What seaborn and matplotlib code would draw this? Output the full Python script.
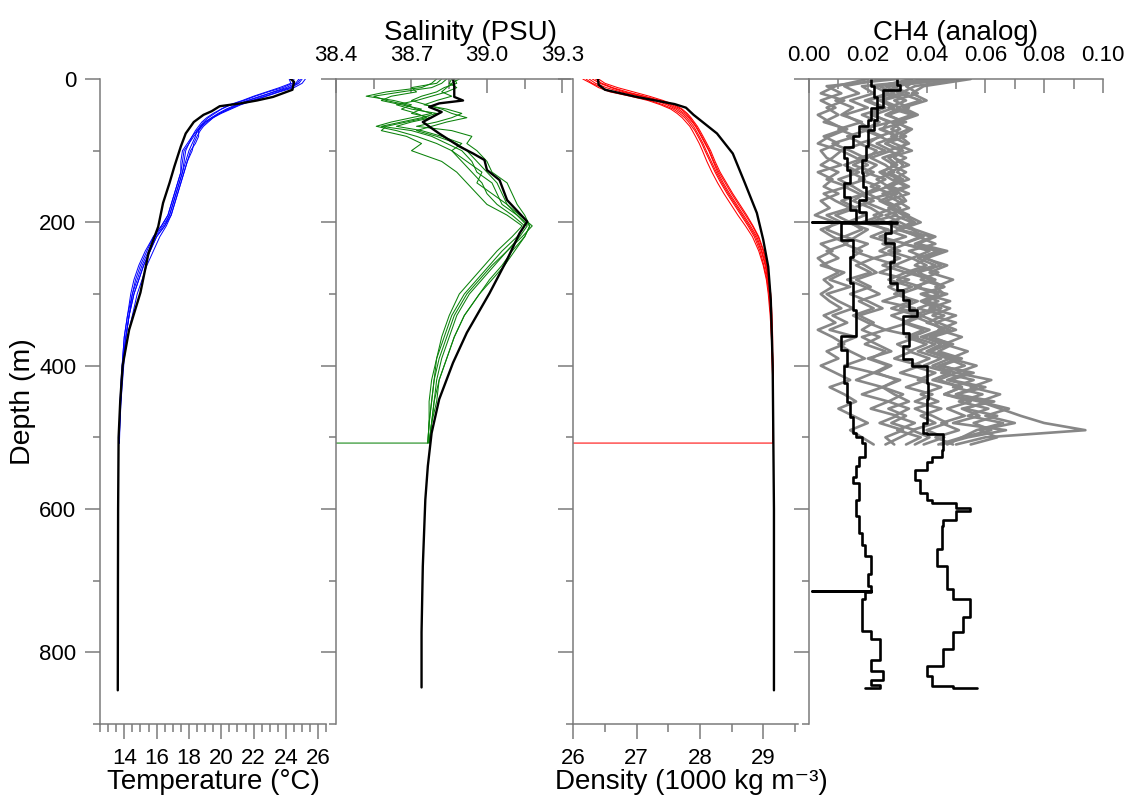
import matplotlib
matplotlib.use("Agg")
import matplotlib.pyplot as plt
import numpy as np
import pandas as pd
import seaborn as sns
from matplotlib.ticker import MultipleLocator, FixedLocator, FormatStrFormatter

# ---------------- data ----------------
# depth grid of the CTD casts (m)
CAST_DEPTH = [0, 6, 12, 18, 24, 30, 36, 42, 48, 54, 60, 66, 72, 80, 90, 100, 115, 130, 145,
              160, 175, 190, 205, 220, 240, 260, 280, 300, 330, 360, 390, 420, 450, 480, 508]

TEMP_CASTS = [
    [24.8, 24.6, 24.0, 23.2, 22.5, 21.7, 21.0, 20.4, 19.9, 19.5, 19.2, 18.9, 18.7, 18.5, 18.3, 18.2, 17.9, 17.7, 17.5,
     17.3, 17.1, 16.9, 16.5, 16.0, 15.6, 15.2, 14.9, 14.6, 14.3, 14.1, 13.95, 13.85, 13.78, 13.72, 13.68],
    [25.2, 25.0, 24.5, 23.6, 22.8, 22.0, 21.2, 20.6, 20.0, 19.5, 19.1, 18.8, 18.6, 18.6, 18.4, 18.1, 17.9, 17.7, 17.5,
     17.3, 17.1, 16.9, 16.6, 16.2, 15.8, 15.4, 15.1, 14.8, 14.5, 14.2, 14.0, 13.9, 13.8, 13.74, 13.7],
    [24.5, 24.4, 23.8, 22.9, 22.1, 21.4, 20.6, 20.0, 19.5, 19.1, 18.8, 18.6, 18.4, 18.2, 17.9, 17.6, 17.5, 17.5, 17.3,
     17.1, 16.9, 16.7, 16.3, 15.8, 15.3, 14.9, 14.6, 14.4, 14.2, 14.0, 13.9, 13.82, 13.75, 13.7, 13.67],
    [25.0, 24.8, 24.3, 23.5, 22.7, 21.9, 21.1, 20.5, 19.9, 19.4, 19.0, 18.7, 18.5, 18.4, 18.2, 18.0, 17.8, 17.6, 17.4,
     17.2, 17.0, 16.8, 16.5, 16.0, 15.6, 15.2, 14.9, 14.6, 14.3, 14.1, 13.95, 13.85, 13.78, 13.72, 13.69],
    [24.2, 24.3, 23.6, 22.8, 22.0, 21.3, 20.5, 20.0, 19.6, 19.2, 18.9, 18.7, 18.6, 18.3, 18.0, 17.7, 17.6, 17.5, 17.3,
     17.1, 16.9, 16.7, 16.3, 15.8, 15.4, 15.0, 14.7, 14.5, 14.2, 14.0, 13.9, 13.8, 13.74, 13.7, 13.67],
    [24.9, 24.7, 24.2, 23.3, 22.4, 21.6, 20.9, 20.3, 19.8, 19.4, 19.0, 18.8, 18.5, 18.2, 18.0, 17.8, 17.7, 17.6, 17.4,
     17.2, 17.0, 16.8, 16.4, 15.9, 15.5, 15.1, 14.8, 14.5, 14.3, 14.1, 13.95, 13.85, 13.77, 13.71, 13.68],
]

SAL_CASTS = [
    [38.84, 38.82, 38.78, 38.66, 38.55, 38.60, 38.68, 38.72, 38.78, 38.70, 38.62, 38.56, 38.64, 38.72, 38.80, 38.86,
     38.90, 38.94, 38.98, 39.00, 39.04, 39.10, 39.15, 39.12, 39.06, 39.01, 38.96, 38.91, 38.86, 38.83, 38.80, 38.79,
     38.78, 38.77, 38.765],
    [38.87, 38.88, 38.83, 38.80, 38.74, 38.70, 38.76, 38.82, 38.86, 38.92, 38.84, 38.78, 38.72, 38.80, 38.88, 38.92,
     38.96, 39.00, 39.04, 39.06, 39.08, 39.12, 39.17, 39.15, 39.10, 39.06, 39.01, 38.97, 38.91, 38.87, 38.84, 38.81,
     38.79, 38.78, 38.77],
    [38.80, 38.78, 38.74, 38.60, 38.52, 38.63, 38.70, 38.66, 38.72, 38.76, 38.68, 38.60, 38.58, 38.68, 38.74, 38.70,
     38.82, 38.88, 38.92, 38.96, 39.00, 39.08, 39.14, 39.10, 39.04, 38.99, 38.94, 38.89, 38.85, 38.82, 38.80, 38.78,
     38.77, 38.77, 38.765],
    [38.86, 38.85, 38.88, 38.84, 38.78, 38.72, 38.64, 38.70, 38.80, 38.74, 38.66, 38.58, 38.70, 38.78, 38.84, 38.90,
     38.94, 38.96, 39.02, 39.04, 39.06, 39.12, 39.16, 39.13, 39.08, 39.03, 38.98, 38.93, 38.88, 38.85, 38.82, 38.80,
     38.79, 38.78, 38.77],
    [38.82, 38.80, 38.70, 38.72, 38.62, 38.58, 38.66, 38.74, 38.70, 38.78, 38.70, 38.64, 38.74, 38.82, 38.90, 38.86,
     38.92, 38.98, 38.96, 39.02, 39.08, 39.13, 39.18, 39.14, 39.08, 39.02, 38.97, 38.92, 38.87, 38.84, 38.81, 38.79,
     38.78, 38.77, 38.765],
    [38.89, 38.86, 38.84, 38.82, 38.86, 38.80, 38.75, 38.84, 38.90, 38.86, 38.80, 38.72, 38.86, 38.94, 38.92, 38.96,
     39.00, 39.02, 39.08, 39.10, 39.12, 39.15, 39.17, 39.15, 39.11, 39.07, 39.02, 38.97, 38.91, 38.87, 38.84, 38.81,
     38.80, 38.78, 38.77],
]

DEN_CASTS = [
    [26.20, 26.30, 26.45, 26.62, 26.95, 27.22, 27.42, 27.58, 27.68, 27.76, 27.82, 27.87, 27.92, 27.97, 28.03, 28.08,
     28.16, 28.24, 28.33, 28.43, 28.54, 28.65, 28.76, 28.86, 28.95, 29.01, 29.06, 29.09, 29.12, 29.13, 29.14, 29.15,
     29.15, 29.16, 29.16],
    [26.35, 26.45, 26.62, 26.85, 27.12, 27.35, 27.52, 27.66, 27.75, 27.82, 27.88, 27.93, 27.97, 28.02, 28.08, 28.14,
     28.21, 28.28, 28.37, 28.47, 28.58, 28.69, 28.80, 28.90, 28.98, 29.04, 29.08, 29.11, 29.13, 29.14, 29.15, 29.15,
     29.16, 29.16, 29.16],
    [26.15, 26.28, 26.40, 26.58, 26.90, 27.18, 27.38, 27.54, 27.64, 27.72, 27.78, 27.84, 27.88, 27.93, 27.99, 28.04,
     28.11, 28.19, 28.28, 28.38, 28.49, 28.60, 28.72, 28.83, 28.93, 29.00, 29.05, 29.08, 29.11, 29.13, 29.14, 29.15,
     29.15, 29.16, 29.16],
    [26.40, 26.50, 26.70, 26.95, 27.20, 27.42, 27.60, 27.72, 27.80, 27.86, 27.91, 27.96, 28.00, 28.05, 28.11, 28.17,
     28.24, 28.32, 28.42, 28.52, 28.63, 28.74, 28.84, 28.93, 29.01, 29.06, 29.09, 29.12, 29.14, 29.15, 29.15, 29.16,
     29.16, 29.16, 29.16],
    [26.25, 26.35, 26.52, 26.75, 27.05, 27.30, 27.48, 27.62, 27.72, 27.79, 27.85, 27.90, 27.94, 27.99, 28.05, 28.10,
     28.18, 28.26, 28.35, 28.45, 28.56, 28.67, 28.78, 28.88, 28.97, 29.03, 29.07, 29.10, 29.12, 29.14, 29.15, 29.15,
     29.16, 29.16, 29.16],
    [26.30, 26.42, 26.60, 26.80, 27.10, 27.38, 27.56, 27.70, 27.78, 27.84, 27.89, 27.94, 27.98, 28.03, 28.09, 28.15,
     28.22, 28.30, 28.40, 28.50, 28.61, 28.72, 28.83, 28.92, 29.00, 29.05, 29.09, 29.11, 29.13, 29.14, 29.15, 29.16,
     29.16, 29.16, 29.16],
]

# last recorded sample of the first cast (instrument returned to surface values)
END_DEPTH = 508
SAL_END = 38.40
DEN_END = 26.00

# reference (black) profiles
TEMP_REF_DEPTH = [0, 4, 15, 25, 30, 34, 38, 45, 50, 60, 76, 94, 122, 145, 173, 206, 243, 298, 350, 400, 450, 500,
                  600, 700, 853]
TEMP_REF = [24.3, 24.5, 24.4, 23.2, 22.2, 21.2, 19.9, 19.4, 18.9, 18.3, 17.8, 17.5, 17.1, 16.8, 16.4, 16.1, 15.5,
            15.0, 14.3, 13.9, 13.75, 13.65, 13.62, 13.61, 13.6]

SAL_REF_DEPTH = [0, 10, 20, 25, 30, 34, 39, 46, 60, 76, 94, 104, 113, 127, 141, 169, 199, 215, 252, 299, 354, 396,
                 447, 494, 540, 587, 680, 772, 849]
SAL_REF = [38.865, 38.87, 38.87, 38.87, 38.905, 38.81, 38.77, 38.82, 38.745, 38.81, 38.89, 38.945, 38.99, 39.0,
           39.05, 39.08, 39.16, 39.13, 39.08, 39.01, 38.92, 38.865, 38.81, 38.78, 38.765, 38.755, 38.745, 38.74, 38.74]

DEN_REF_DEPTH = [0, 8, 15, 20, 25, 30, 35, 40, 50, 57, 76, 104, 145, 187, 224, 262, 308, 400, 500, 600, 853]
DEN_REF = [26.39, 26.40, 26.50, 26.75, 27.00, 27.30, 27.60, 27.78, 27.90, 28.00, 28.27, 28.52, 28.71, 28.90, 29.00,
           29.08, 29.12, 29.15, 29.16, 29.17, 29.17]

# CH4 sensor casts (grey)
GRAY_DEPTH = [0, 10, 20, 30, 40, 50, 60, 70, 80, 90, 100, 110, 120,
              130, 140, 150, 160, 170, 180, 190, 200, 210, 220, 230, 240, 250,
              260, 270, 280, 290, 300, 310, 320, 330, 340, 350, 360, 370, 380,
              390, 400, 410, 420, 430, 440, 450, 460, 470, 480, 490, 500, 510]
CH4_CASTS = [
    [0.030, 0.006, 0.011, 0.004, 0.009, 0.003, 0.007, 0.012, 0.005, 0.010, 0.004, 0.006, 0.011,
     0.003, 0.008, 0.005, 0.010, 0.004, 0.007, 0.002, 0.009, 0.006, 0.012, 0.004, 0.008, 0.003,
     0.006, 0.010, 0.005, 0.008, 0.004, 0.007, 0.011, 0.005, 0.009, 0.003, 0.008, 0.012, 0.006,
     0.010, 0.004, 0.009, 0.014, 0.007, 0.012, 0.016, 0.010, 0.015, 0.020, 0.014, 0.018, 0.022],
    [0.045, 0.018, 0.022, 0.014, 0.020, 0.012, 0.017, 0.021, 0.013, 0.018, 0.011, 0.016, 0.020,
     0.014, 0.019, 0.012, 0.017, 0.022, 0.015, 0.019, 0.013, 0.020, 0.016, 0.012, 0.018, 0.014,
     0.019, 0.023, 0.016, 0.021, 0.014, 0.020, 0.025, 0.017, 0.022, 0.018, 0.024, 0.019, 0.026,
     0.021, 0.028, 0.023, 0.030, 0.025, 0.032, 0.027, 0.034, 0.029, 0.036, 0.030, 0.038, 0.033],
    [0.050, 0.026, 0.031, 0.024, 0.029, 0.022, 0.027, 0.025, 0.030, 0.023, 0.028, 0.021, 0.026,
     0.029, 0.023, 0.027, 0.020, 0.025, 0.029, 0.022, 0.026, 0.031, 0.024, 0.033, 0.027, 0.035,
     0.029, 0.036, 0.030, 0.038, 0.031, 0.035, 0.028, 0.037, 0.032, 0.039, 0.033, 0.040, 0.034,
     0.041, 0.035, 0.043, 0.037, 0.045, 0.038, 0.044, 0.036, 0.042, 0.047, 0.040, 0.046, 0.039],
    [0.038, 0.033, 0.037, 0.029, 0.034, 0.027, 0.032, 0.028, 0.033, 0.026, 0.031, 0.029, 0.034,
     0.027, 0.032, 0.028, 0.034, 0.026, 0.031, 0.029, 0.035, 0.030, 0.038, 0.032, 0.041, 0.035,
     0.040, 0.033, 0.042, 0.036, 0.044, 0.038, 0.043, 0.035, 0.041, 0.046, 0.039, 0.045, 0.040,
     0.048, 0.042, 0.050, 0.044, 0.052, 0.046, 0.055, 0.047, 0.053, 0.045, 0.051, 0.043, 0.049],
    [0.055, 0.039, 0.035, 0.040, 0.032, 0.037, 0.030, 0.034, 0.028, 0.033, 0.031, 0.029, 0.032,
     0.030, 0.034, 0.027, 0.031, 0.033, 0.028, 0.032, 0.036, 0.030, 0.042, 0.036, 0.045, 0.039,
     0.047, 0.041, 0.049, 0.043, 0.046, 0.040, 0.048, 0.042, 0.050, 0.044, 0.052, 0.046, 0.054,
     0.048, 0.057, 0.050, 0.062, 0.055, 0.065, 0.058, 0.068, 0.060, 0.070, 0.058, 0.064, 0.055],
    [0.035, 0.024, 0.029, 0.020, 0.026, 0.018, 0.024, 0.019, 0.025, 0.017, 0.023, 0.020, 0.015,
     0.022, 0.017, 0.024, 0.019, 0.015, 0.021, 0.025, 0.018, 0.027, 0.021, 0.029, 0.024, 0.031,
     0.025, 0.033, 0.027, 0.035, 0.029, 0.037, 0.031, 0.039, 0.033, 0.041, 0.035, 0.043, 0.037,
     0.045, 0.039, 0.048, 0.042, 0.052, 0.046, 0.058, 0.065, 0.072, 0.080, 0.094, 0.060, 0.050],
    [0.042, 0.030, 0.026, 0.033, 0.027, 0.035, 0.028, 0.031, 0.024, 0.029, 0.035, 0.027, 0.030,
     0.024, 0.028, 0.033, 0.025, 0.030, 0.034, 0.026, 0.031, 0.036, 0.043, 0.037, 0.047, 0.040,
     0.036, 0.044, 0.038, 0.046, 0.039, 0.048, 0.041, 0.050, 0.043, 0.045, 0.038, 0.047, 0.041,
     0.051, 0.044, 0.056, 0.048, 0.060, 0.050, 0.063, 0.052, 0.058, 0.049, 0.067, 0.054, 0.045],
    [0.040, 0.022, 0.027, 0.019, 0.025, 0.021, 0.028, 0.018, 0.024, 0.020, 0.026, 0.017, 0.023,
     0.019, 0.026, 0.021, 0.028, 0.018, 0.024, 0.030, 0.020, 0.026, 0.033, 0.025, 0.031, 0.022,
     0.030, 0.024, 0.034, 0.027, 0.032, 0.025, 0.036, 0.028, 0.034, 0.026, 0.037, 0.030, 0.035,
     0.029, 0.038, 0.031, 0.040, 0.033, 0.042, 0.036, 0.045, 0.038, 0.043, 0.035, 0.041, 0.036],
    [0.052, 0.036, 0.031, 0.038, 0.030, 0.036, 0.029, 0.035, 0.031, 0.034, 0.027, 0.033, 0.028,
     0.033, 0.029, 0.034, 0.028, 0.032, 0.027, 0.033, 0.038, 0.031, 0.037, 0.043, 0.034, 0.040,
     0.045, 0.037, 0.043, 0.036, 0.047, 0.039, 0.045, 0.038, 0.044, 0.050, 0.042, 0.048, 0.041,
     0.047, 0.053, 0.045, 0.056, 0.049, 0.059, 0.051, 0.061, 0.054, 0.066, 0.057, 0.052, 0.047],
    [0.025, 0.012, 0.017, 0.009, 0.015, 0.011, 0.018, 0.010, 0.016, 0.008, 0.014, 0.019, 0.012,
     0.017, 0.010, 0.015, 0.019, 0.011, 0.016, 0.009, 0.014, 0.018, 0.012, 0.020, 0.015, 0.022,
     0.016, 0.021, 0.013, 0.019, 0.024, 0.017, 0.022, 0.015, 0.020, 0.026, 0.018, 0.023, 0.028,
     0.020, 0.027, 0.022, 0.031, 0.025, 0.029, 0.034, 0.027, 0.033, 0.028, 0.036, 0.031, 0.026],
    [0.047, 0.028, 0.034, 0.025, 0.031, 0.026, 0.033, 0.024, 0.030, 0.026, 0.032, 0.025, 0.029,
     0.025, 0.031, 0.026, 0.030, 0.024, 0.029, 0.034, 0.027, 0.035, 0.039, 0.032, 0.044, 0.037,
     0.043, 0.035, 0.041, 0.046, 0.038, 0.044, 0.037, 0.046, 0.040, 0.048, 0.041, 0.049, 0.044,
     0.052, 0.045, 0.054, 0.047, 0.057, 0.050, 0.061, 0.053, 0.064, 0.056, 0.062, 0.052, 0.044],
    [0.020, 0.009, 0.004, 0.012, 0.006, 0.010, 0.005, 0.013, 0.007, 0.003, 0.011, 0.008, 0.004,
     0.010, 0.006, 0.013, 0.005, 0.009, 0.014, 0.006, 0.011, 0.004, 0.008, 0.013, 0.006, 0.010,
     0.004, 0.012, 0.007, 0.014, 0.006, 0.010, 0.015, 0.008, 0.013, 0.007, 0.016, 0.010, 0.014,
     0.019, 0.012, 0.022, 0.016, 0.025, 0.018, 0.027, 0.021, 0.030, 0.024, 0.032, 0.026, 0.029],
]

# CH4 reference profiles (black)
CH4_A_DEPTH = [0, 10, 25, 40, 57, 66, 80, 95, 110, 127, 145, 164, 183, 199, 200, 201, 224, 248, 285, 322,
               350, 359, 378, 400, 424, 450, 471, 494, 500, 508, 527, 540, 555, 564, 587, 610, 633, 650, 666, 690,
               708, 714, 715, 716, 726, 758, 770, 782, 810, 826, 838, 845, 850]
CH4_A = [0.021, 0.022, 0.023, 0.021, 0.020, 0.017, 0.015, 0.012, 0.013, 0.014, 0.012, 0.014, 0.016, 0.001, 0.030,
         0.011, 0.015, 0.014, 0.015, 0.016, 0.016, 0.011, 0.013, 0.012, 0.013, 0.014, 0.015, 0.016, 0.018, 0.019,
         0.017, 0.016, 0.015, 0.017, 0.016, 0.017, 0.018, 0.019, 0.021, 0.020, 0.021, 0.001, 0.021, 0.019, 0.018,
         0.018, 0.021, 0.024, 0.021, 0.025, 0.021, 0.024, 0.019]
CH4_B_DEPTH = [0, 8, 15, 39, 57, 71, 94, 113, 131, 150, 169, 185, 199, 200, 206, 215, 229, 256, 285, 294,
               308, 322, 331, 354, 373, 391, 401, 424, 447, 480, 494, 496, 517, 527, 535, 545, 559, 577, 587, 591,
               598, 603, 615, 624, 656, 680, 712, 726, 750, 772, 796, 819, 833, 847, 850]
CH4_B = [0.030, 0.031, 0.025, 0.023, 0.022, 0.020, 0.0195, 0.018, 0.0185, 0.0195, 0.017, 0.0195, 0.0205, 0.028,
         0.028, 0.026, 0.029, 0.0275, 0.030, 0.032, 0.034, 0.0366, 0.032, 0.034, 0.032, 0.035, 0.040, 0.0405, 0.040,
         0.0388, 0.040, 0.0456, 0.0452, 0.042, 0.040, 0.036, 0.0378, 0.040, 0.042, 0.050, 0.0548, 0.050, 0.0456,
         0.0452, 0.0435, 0.047, 0.049, 0.0548, 0.0524, 0.049, 0.0456, 0.040, 0.042, 0.049, 0.057]

# ---------------- style ----------------
sns.set_theme(style="ticks")
plt.rcParams['font.family'] = ['Liberation Sans', 'DejaVu Sans']
plt.rcParams['axes.labelcolor'] = 'black'
plt.rcParams['text.color'] = 'black'

SPINE = '#7a7a7a'
TICK_FS = 16
LAB_FS = 20

W, H = 1129, 796
fig = plt.figure(figsize=(W / 100, H / 100), dpi=100)
TOP, BOT = 79, 724


def rect(x0, x1):
    return [x0 / W, 1 - BOT / H, (x1 - x0) / W, (BOT - TOP) / H]


ax1 = fig.add_axes(rect(100, 326.4))
ax2 = fig.add_axes(rect(336, 570))
ax3 = fig.add_axes(rect(573.3, 798))
ax4 = fig.add_axes(rect(809, 1103))


def casts_frame(depth, casts, var):
    rows = []
    for k, vals in enumerate(casts):
        assert len(vals) == len(depth), (var, k, len(vals))
        for d, v in zip(depth, vals):
            rows.append((k, d, v))
    return pd.DataFrame(rows, columns=['cast', 'depth', var])


def draw_casts(ax, df, var, color, lw, **kw):
    sns.lineplot(data=df, x=var, y='depth', units='cast', estimator=None, sort=False,
                 orient='y', color=color, lw=lw, ax=ax, legend=False, **kw)


# temperature
t_df = casts_frame(CAST_DEPTH, TEMP_CASTS, 'temp')
draw_casts(ax1, t_df, 'temp', '#0000ff', 0.7)
sns.lineplot(x=TEMP_REF, y=TEMP_REF_DEPTH, sort=False, orient='y', estimator=None,
             color='black', lw=1.7, ax=ax1)

# salinity
s_df = casts_frame(CAST_DEPTH, SAL_CASTS, 'sal')
s_df = pd.concat([s_df, pd.DataFrame([(0, END_DEPTH, SAL_END)], columns=['cast', 'depth', 'sal'])],
                 ignore_index=True)
draw_casts(ax2, s_df, 'sal', '#0a820a', 0.75)
sns.lineplot(x=SAL_REF, y=SAL_REF_DEPTH, sort=False, orient='y', estimator=None,
             color='black', lw=1.7, ax=ax2)

# density
d_df = casts_frame(CAST_DEPTH, DEN_CASTS, 'den')
d_df = pd.concat([d_df, pd.DataFrame([(0, END_DEPTH, DEN_END)], columns=['cast', 'depth', 'den'])],
                 ignore_index=True)
draw_casts(ax3, d_df, 'den', '#ff0000', 0.75)
sns.lineplot(x=DEN_REF, y=DEN_REF_DEPTH, sort=False, orient='y', estimator=None,
             color='black', lw=1.7, ax=ax3)

# CH4
c_df = casts_frame(GRAY_DEPTH, CH4_CASTS, 'ch4')
draw_casts(ax4, c_df, 'ch4', '#878787', 1.9)
for xs, ys in ((CH4_A, CH4_A_DEPTH), (CH4_B, CH4_B_DEPTH)):
    sns.lineplot(x=xs, y=ys, sort=False, orient='y', estimator=None, color='black',
                 lw=1.9, ax=ax4, drawstyle='steps-pre')

# ---------------- axes ----------------
for ax in (ax1, ax2, ax3, ax4):
    for s in ax.spines.values():
        s.set_visible(False)
        s.set_color(SPINE)
        s.set_linewidth(1.1)
    ax.spines['left'].set_visible(True)
    ax.set_ylim(900, 0)
    ax.yaxis.set_major_locator(MultipleLocator(200))
    ax.yaxis.set_minor_locator(MultipleLocator(100))
    ax.tick_params(axis='y', which='major', direction='out', length=11, width=1.1, color=SPINE,
                   labelsize=TICK_FS, labelcolor='black', pad=6, left=True, right=False)
    ax.tick_params(axis='y', which='minor', direction='out', length=5, width=1.1, color=SPINE,
                   left=True, right=False)
    ax.set_ylabel('')
    ax.set_facecolor('none')

for ax in (ax2, ax3, ax4):
    ax.tick_params(axis='y', labelleft=False)

# bottom axes
for ax in (ax1, ax3):
    ax.spines['bottom'].set_visible(True)
    ax.tick_params(axis='x', which='major', direction='out', length=11, width=1.1, color=SPINE,
                   labelsize=TICK_FS, labelcolor='black', pad=6.5, bottom=True, top=False)
    ax.tick_params(axis='x', which='minor', direction='out', length=6, width=1.1, color=SPINE,
                   bottom=True, top=False)

# top axes
for ax in (ax2, ax4):
    ax.spines['top'].set_visible(True)
    ax.xaxis.tick_top()
    ax.xaxis.set_label_position('top')
    ax.tick_params(axis='x', which='major', direction='in', length=10, width=1.1, color=SPINE,
                   labelsize=TICK_FS, labelcolor='black', pad=9.5, top=True, bottom=False,
                   labeltop=True, labelbottom=False)
    ax.tick_params(axis='x', which='minor', direction='in', length=7, width=1.1, color=SPINE,
                   top=True, bottom=False)

ax1.set_xlim(12.5, 26.5)
ax1.xaxis.set_major_locator(MultipleLocator(2))
ax1.xaxis.set_minor_locator(MultipleLocator(0.5))
ax1.set_xlabel('Temperature (°C)', fontsize=LAB_FS, labelpad=-0.5)
ax1.set_ylabel('Depth (m)', fontsize=LAB_FS + 0.5, labelpad=2)

ax2.set_xlim(38.4, 39.33)
ax2.xaxis.set_major_locator(FixedLocator([38.4, 38.7, 39.0, 39.3]))
ax2.xaxis.set_minor_locator(FixedLocator([38.55, 38.85, 39.15]))
ax2.xaxis.set_major_formatter(FormatStrFormatter('%.1f'))
ax2.set_xlabel('Salinity (PSU)', fontsize=LAB_FS, labelpad=3.5)
ax2.xaxis.label.set_x(0.575)

ax3.set_xlim(26, 29.55)
ax3.xaxis.set_major_locator(MultipleLocator(1))
ax3.xaxis.set_minor_locator(MultipleLocator(0.5))
ax3.xaxis.set_major_formatter(FormatStrFormatter('%d'))
ax3.set_xlabel('Density (1000 kg m\u207b\u00b3)', fontsize=LAB_FS, labelpad=-0.5)
ax3.xaxis.label.set_x(0.525)

ax4.set_xlim(0, 0.10)
ax4.xaxis.set_major_locator(MultipleLocator(0.02))
ax4.xaxis.set_minor_locator(MultipleLocator(0.01))
ax4.xaxis.set_major_formatter(FormatStrFormatter('%.2f'))
ax4.set_xlabel('CH4 (analog)', fontsize=LAB_FS, labelpad=3.5)

fig.savefig('out.png', dpi=100, facecolor='white')
